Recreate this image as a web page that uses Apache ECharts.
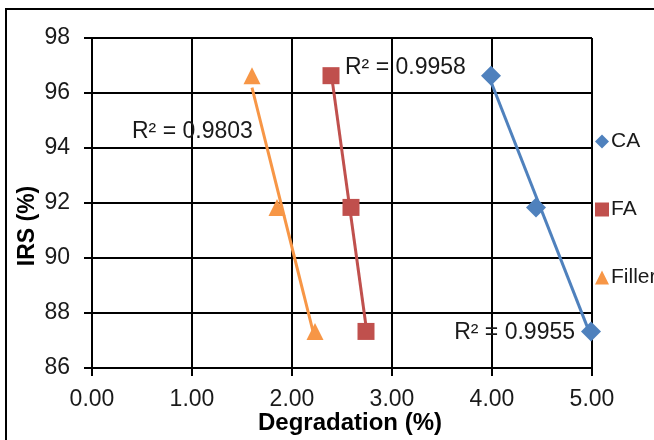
<!DOCTYPE html>
<html><head><meta charset="utf-8">
<script src="https://cdn.jsdelivr.net/npm/echarts@6/dist/echarts.min.js"></script>
<style>html,body{margin:0;padding:0;background:#fff}#c{width:654px;height:440px}</style>
</head><body><div id="c"></div>
<script>
const seriesNames = ['CA', 'FA', 'Filler'];
const caX = [3.99, 4.44, 4.99];
const caY = [96.63, 91.84, 87.33];
const faX = [2.39, 2.59, 2.74];
const faY = [96.63, 91.84, 87.33];
const fillerX = [1.60, 1.85, 2.23];
const fillerY = [96.63, 91.84, 87.33];
const r2Labels = ['R² = 0.9955', 'R² = 0.9958', 'R² = 0.9803'];
const xTicks = [0, 1, 2, 3, 4, 5];
const yTicks = [86, 88, 90, 92, 94, 96, 98];

const colors = ['#4F81BD', '#C0504D', '#F79646'];
const symbols = ['diamond', 'rect', 'triangle'];
const xs = [caX, faX, fillerX];
const ys = [caY, faY, fillerY];
const FONT = '"Liberation Sans", Arial, sans-serif';

function fit(x, y) {
  const n = x.length;
  const mx = x.reduce((a, b) => a + b, 0) / n;
  const my = y.reduce((a, b) => a + b, 0) / n;
  let sxy = 0, sxx = 0;
  for (let i = 0; i < n; i++) { sxy += (x[i] - mx) * (y[i] - my); sxx += (x[i] - mx) ** 2; }
  const b = sxy / sxx, a = my - b * mx;
  const x0 = Math.min(...x), x1 = Math.max(...x);
  return [[x0, a + b * x0], [x1, a + b * x1]];
}

const series = [];
seriesNames.forEach((name, i) => {
  series.push({
    name: name + ' trend', type: 'line', data: fit(xs[i], ys[i]), showSymbol: false,
    lineStyle: { color: colors[i], width: 3 }, z: 3, silent: true
  });
});
seriesNames.forEach((name, i) => {
  series.push({
    name: name, type: 'scatter', data: xs[i].map((v, k) => [v, ys[i][k]]),
    symbol: symbols[i], symbolSize: i === 0 ? 20 : 17,
    itemStyle: { color: colors[i], opacity: 1 }, z: 5
  });
});

const chart = echarts.init(document.getElementById('c'));
chart.setOption({
  animation: false,
  grid: { left: 92, top: 38, right: 62, bottom: 72 },
  xAxis: {
    type: 'value', min: xTicks[0], max: xTicks[xTicks.length - 1], interval: 1,
    axisLine: { show: true, lineStyle: { color: '#000', width: 2 } },
    axisTick: { show: true, length: 8, lineStyle: { color: '#000', width: 2 } },
    splitLine: { show: true, lineStyle: { color: '#000', width: 2 } },
    axisLabel: { color: '#1a1a1a', fontSize: 23, fontFamily: FONT, margin: 20, formatter: v => v.toFixed(2) }
  },
  yAxis: {
    type: 'value', min: yTicks[0], max: yTicks[yTicks.length - 1], interval: 2,
    axisLine: { show: true, lineStyle: { color: '#000', width: 2 } },
    axisTick: { show: true, length: 8, lineStyle: { color: '#000', width: 2 } },
    splitLine: { show: true, lineStyle: { color: '#000', width: 2 } },
    axisLabel: { color: '#1a1a1a', fontSize: 23, fontFamily: FONT, margin: 22 }
  },
  legend: {
    orient: 'vertical', left: 590, top: 126, itemGap: 47, itemWidth: 14, itemHeight: 14,
    data: seriesNames.map((n, i) => ({ name: n, icon: symbols[i] })),
    textStyle: { color: '#1a1a1a', fontSize: 21, fontFamily: FONT, padding: [0, 0, 0, -3] }
  },
  graphic: [
    { type: 'rect', shape: { x: 6, y: 9, width: 700, height: 500 }, style: { fill: 'none', stroke: '#000', lineWidth: 2 }, silent: true },
    { type: 'text', x: 28, y: 226, rotation: Math.PI / 2, style: { text: 'IRS (%)', font: 'bold 23px ' + FONT, fill: '#000', textAlign: 'center', textVerticalAlign: 'middle' } },
    { type: 'text', x: 350, y: 423, style: { text: 'Degradation (%)', font: 'bold 24px ' + FONT, fill: '#000', textAlign: 'center', textVerticalAlign: 'middle' } },
    { type: 'text', x: 575, y: 333, z: 10, style: { text: r2Labels[0], font: '23px ' + FONT, fill: '#1a1a1a', textAlign: 'right', textVerticalAlign: 'middle' } },
    { type: 'text', x: 345, y: 68, z: 10, style: { text: r2Labels[1], font: '23px ' + FONT, fill: '#1a1a1a', textAlign: 'left', textVerticalAlign: 'middle' } },
    { type: 'text', x: 132, y: 132, z: 10, style: { text: r2Labels[2], font: '23px ' + FONT, fill: '#1a1a1a', textAlign: 'left', textVerticalAlign: 'middle' } }
  ],
  series: series
});
</script></body></html>
